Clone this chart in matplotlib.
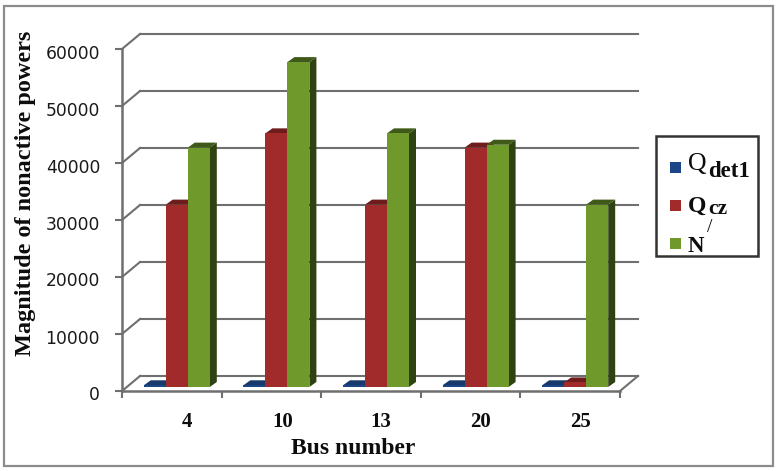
#!/usr/bin/env python3
"""Bar chart with a fake 3D look: nonactive powers per bus."""

import matplotlib
matplotlib.use("Agg")
import matplotlib.pyplot as plt
from matplotlib.patches import Polygon, Rectangle
from matplotlib.transforms import Affine2D

buses = ["4", "10", "13", "20", "25"]
q_det1 = [300, 300, 300, 300, 300]
q_cz = [32000, 44500, 32000, 42000, 800]
n_prime = [42000, 57000, 44500, 42500, 32000]
y_ticks = [0, 10000, 20000, 30000, 40000, 50000, 60000]

W, H = 780, 471
SERIF = "Liberation Serif"
GRID = "#6f6f6f"
INK = "#0d0d0d"

# front colour, side colour, top colour
STYLES = [("#1c4587", "#10294f", "#16386b"),
          ("#a12a2a", "#5e1616", "#6e1c1c"),
          ("#6f9a2b", "#2f4212", "#3f5a18")]


def px_text(fig, x, y, s, **kw):
    # text placed by picture pixels, origin top left
    return fig.text(x / W, 1 - y / H, s, family=SERIF, color=INK, **kw)


def draw_legend(fig):
    fig.add_artist(Rectangle((656 / W, 1 - 256 / H), 102 / W, 120 / H, fc="white",
                             ec="#333333", lw=1.8, transform=fig.transFigure))
    for (front, _, _), y in zip(STYLES, [167, 205, 243]):
        fig.add_artist(Rectangle((670 / W, 1 - (y + 5.5) / H), 11 / W, 11 / H, fc=front,
                                 ec="none", transform=fig.transFigure))
    px_text(fig, 688, 164, "Q", fontsize=18.5, ha="left", va="center")
    px_text(fig, 708, 172, "det1", fontsize=16.5, fontweight="bold", ha="left", va="center")
    px_text(fig, 688, 206, "Q", fontsize=17, fontweight="bold", ha="left", va="center")
    px_text(fig, 708, 209, "cz", fontsize=15.5, fontweight="bold", ha="left", va="center")
    px_text(fig, 688, 246, "N", fontsize=16.5, fontweight="bold", ha="left", va="center")
    px_text(fig, 709.5, 228, "/", fontsize=14, ha="center", va="center")


def main():
    fig = plt.figure(figsize=(W / 100, H / 100), dpi=100)
    fig.add_artist(Rectangle((4 / W, 1 - 466 / H), 769 / W, 460 / H, fill=False,
                             ec="#8c8c8c", lw=1.6, transform=fig.transFigure))

    ax = fig.add_axes([122 / W, 1 - 391 / H, 498 / W, 342 / H])
    n = len(buses)
    ax.set_xlim(0, n)
    ax.set_ylim(0, 60000)
    for s in ax.spines.values():
        s.set_visible(False)
    ax.patch.set_alpha(0)

    # back wall and floor, pushed back by the depth offset
    back = ax.transData + Affine2D().translate(18, 15)
    depth_x = 18 / 498 * n
    depth_y = 15 / 342 * 60000
    for v in y_ticks:
        ax.plot([0, n], [v, v], color=GRID, lw=1.5, transform=back, clip_on=False, zorder=1)
        ax.plot([0, depth_x], [v, v + depth_y], color=GRID, lw=1.5, clip_on=False, zorder=1)
    ax.plot([n, n + depth_x], [0, depth_y], color=GRID, lw=1.5, clip_on=False, zorder=1)
    ax.plot([0, 0], [0, 60000], color=GRID, lw=1.8, clip_on=False, zorder=1)
    ax.plot([0, n], [0, 0], color=GRID, lw=1.8, clip_on=False, zorder=1)

    # bars, front faces sit slightly inside the floor
    bar_w = 22 / (498 / n)
    dx = 7 / (498 / n)
    dy = 5 / 342 * 60000
    shift = ax.transData + Affine2D().translate(5, 4)
    for j, series in enumerate([q_det1, q_cz, n_prime]):
        front, side, top = STYLES[j]
        for i, v in enumerate(series):
            x0 = i + 0.5 + (j - 1.5) * bar_w
            x1 = x0 + bar_w
            ax.add_patch(Polygon([(x1, 0), (x1 + dx, dy), (x1 + dx, v + dy), (x1, v)],
                                 fc=side, ec="none", transform=shift,
                                 clip_on=False, zorder=3 + j))
            ax.add_patch(Polygon([(x0, v), (x1, v), (x1 + dx, v + dy), (x0 + dx, v + dy)],
                                 fc=top, ec="none", transform=shift,
                                 clip_on=False, zorder=3 + j))
            ax.add_patch(Rectangle((x0, 0), bar_w, v, fc=front, ec="none",
                                   transform=shift, clip_on=False, zorder=3 + j))

    ax.set_yticks(y_ticks)
    ax.set_yticklabels([str(v) for v in y_ticks], fontsize=12.3, color="#1a1a1a",
                       family="DejaVu Sans")
    ax.tick_params(axis="y", length=5, width=1.5, color=GRID, pad=10.8)
    for lbl in ax.get_yticklabels():
        lbl.set_transform(lbl.get_transform() + Affine2D().translate(0, -2.5))

    ax.set_xticks(range(n + 1))
    ax.set_xticklabels([""] * (n + 1))
    ax.tick_params(axis="x", length=5, width=1.5, color=GRID)
    nudge = [15, 11, 10, 10, 10]
    for i, b in enumerate(buses):
        ax.annotate(b, (i + 0.5, 0), xytext=(nudge[i], -31), textcoords="offset pixels",
                    ha="center", va="center", fontsize=15, fontweight="bold",
                    family=SERIF, color=INK, annotation_clip=False)

    px_text(fig, 353, 449, "Bus number", ha="center", va="center",
            fontsize=17, fontweight="bold")
    px_text(fig, 26, 193, "Magnitude of nonactive powers", rotation=90,
            ha="center", va="center", fontsize=17.5, fontweight="bold")

    draw_legend(fig)

    fig.savefig("out.png", dpi=100, facecolor="white")
    plt.close(fig)


if __name__ == "__main__":
    main()
